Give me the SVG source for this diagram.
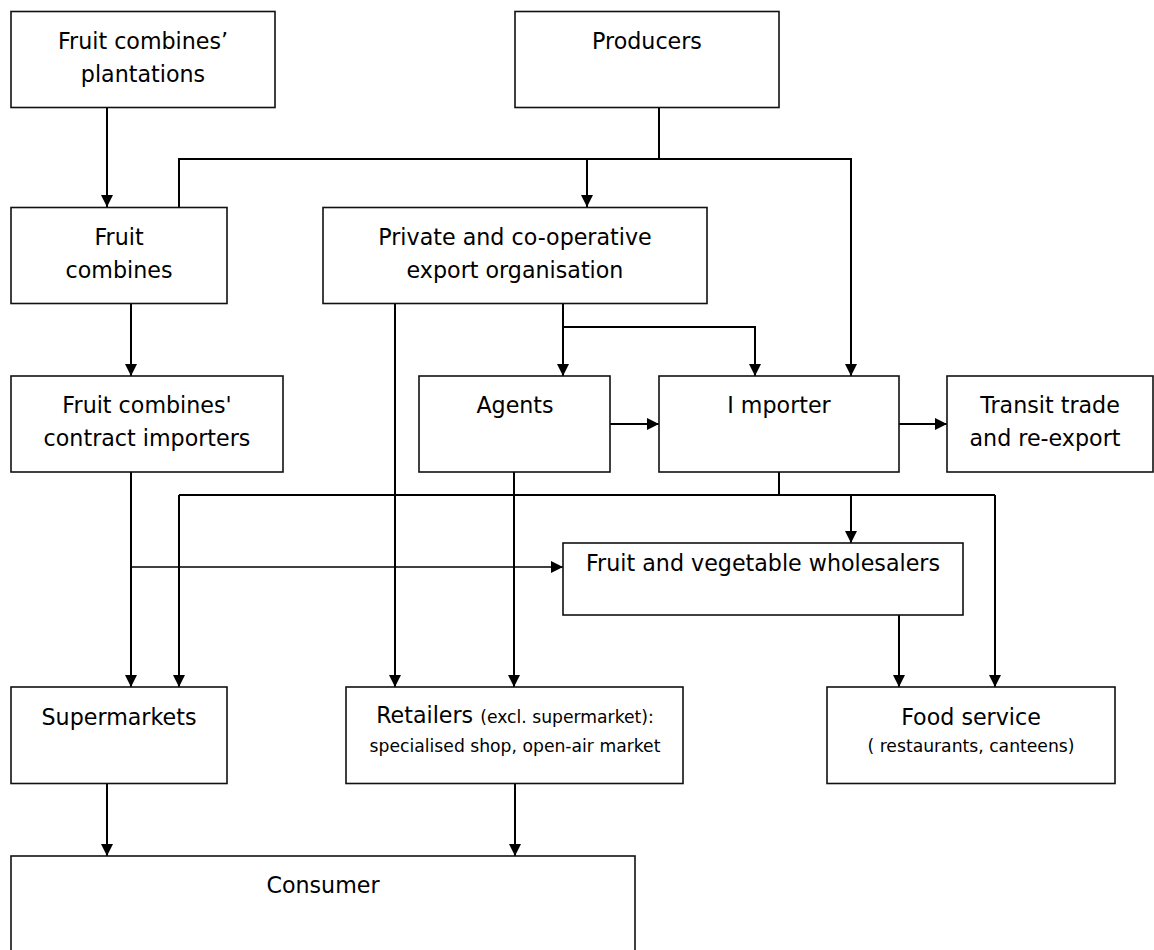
<svg xmlns="http://www.w3.org/2000/svg" width="1154" height="950" viewBox="0 0 1154 950">
  <defs>
    <marker id="arrow" markerUnits="userSpaceOnUse" markerWidth="12" markerHeight="12" refX="12" refY="6" orient="auto">
      <path d="M0,0 L12,6 L0,12 z" fill="#000"/>
    </marker>
    <style>
      .box { fill: #fff; stroke: #111; stroke-width: 1.6; }
      .lbl { font-family: "DejaVu Sans", "Liberation Sans", sans-serif; font-size: 22.2px; fill: #000; text-anchor: middle; }
      .sm { font-size: 17.2px; }
      .wire { fill: none; stroke: #000; stroke-width: 2; }
      .thin { stroke-width: 1.3; }
      .arr { marker-end: url(#arrow); }
    </style>
  </defs>
  <rect width="1154" height="950" fill="#fff"/>

  <!-- connectors -->
  <g id="connectors">
    <path class="wire arr" d="M107,107 V207"/>
    <path class="wire" d="M659,107 V159"/>
    <path class="wire arr" d="M179,207 V159 H851 V376"/>
    <path class="wire arr" d="M587,159 V207"/>
    <path class="wire arr" d="M131,303 V376"/>
    <path class="wire arr" d="M563,303 V376"/>
    <path class="wire arr" d="M563,327 H755 V376"/>
    <path class="wire arr" d="M395,303 V687"/>
    <path class="wire arr" d="M610,424 H659"/>
    <path class="wire arr" d="M899,424 H947"/>
    <path class="wire arr" d="M514,472 V687"/>
    <path class="wire" d="M779,472 V495"/>
    <path class="wire" d="M179,495 H995"/>
    <path class="wire arr" d="M179,495 V687"/>
    <path class="wire arr" d="M995,495 V687"/>
    <path class="wire arr" d="M851,495 V543"/>
    <path class="wire arr" d="M131,472 V687"/>
    <path class="wire thin arr" d="M131,567 H563"/>
    <path class="wire arr" d="M899,615 V687"/>
    <path class="wire arr" d="M107,784 V856"/>
    <path class="wire arr" d="M515,784 V856"/>
  </g>

  <g id="plantations">
    <rect class="box" x="11" y="11.5" width="264" height="96"/>
    <text class="lbl" x="143" y="49">Fruit combines’</text>
    <text class="lbl" x="143" y="82">plantations</text>
  </g>

  <g id="producers">
    <rect class="box" x="515" y="11.5" width="264" height="96"/>
    <text class="lbl" x="647" y="49">Producers</text>
  </g>

  <g id="fruit-combines">
    <rect class="box" x="11" y="207.5" width="216" height="96"/>
    <text class="lbl" x="119" y="245">Fruit</text>
    <text class="lbl" x="119" y="278">combines</text>
  </g>

  <g id="export-organisation">
    <rect class="box" x="323" y="207.5" width="384" height="96"/>
    <text class="lbl" x="515" y="245">Private and co-operative</text>
    <text class="lbl" x="515" y="278">export organisation</text>
  </g>

  <g id="contract-importers">
    <rect class="box" x="11" y="376" width="272" height="96"/>
    <text class="lbl" x="147" y="413">Fruit combines'</text>
    <text class="lbl" x="147" y="446">contract importers</text>
  </g>

  <g id="agents">
    <rect class="box" x="419" y="376" width="191" height="96"/>
    <text class="lbl" x="515" y="413">Agents</text>
  </g>

  <g id="importer">
    <rect class="box" x="659" y="376" width="240" height="96"/>
    <text class="lbl" x="779" y="413">I mporter</text>
  </g>

  <g id="transit">
    <rect class="box" x="947" y="376" width="206" height="96"/>
    <text class="lbl" x="1050" y="413">Transit trade</text>
    <text class="lbl" x="1045" y="446">and re-export</text>
  </g>

  <g id="wholesalers">
    <rect class="box" x="563" y="543" width="400" height="72"/>
    <text class="lbl" x="763" y="571">Fruit and vegetable wholesalers</text>
  </g>

  <g id="supermarkets">
    <rect class="box" x="11" y="687" width="216" height="96.5"/>
    <text class="lbl" x="119" y="725">Supermarkets</text>
  </g>

  <g id="retailers">
    <rect class="box" x="346" y="687" width="337" height="96.5"/>
    <text class="lbl" x="515" y="723">Retailers <tspan class="sm">(excl. supermarket):</tspan></text>
    <text class="lbl sm" x="515" y="752">specialised shop, open-air market</text>
  </g>

  <g id="food-service">
    <rect class="box" x="827" y="687" width="288" height="96.5"/>
    <text class="lbl" x="971" y="725">Food service</text>
    <text class="lbl sm" x="971" y="752">( restaurants, canteens)</text>
  </g>

  <g id="consumer">
    <rect class="box" x="11" y="856" width="624" height="130"/>
    <text class="lbl" x="323" y="893">Consumer</text>
  </g>
</svg>
